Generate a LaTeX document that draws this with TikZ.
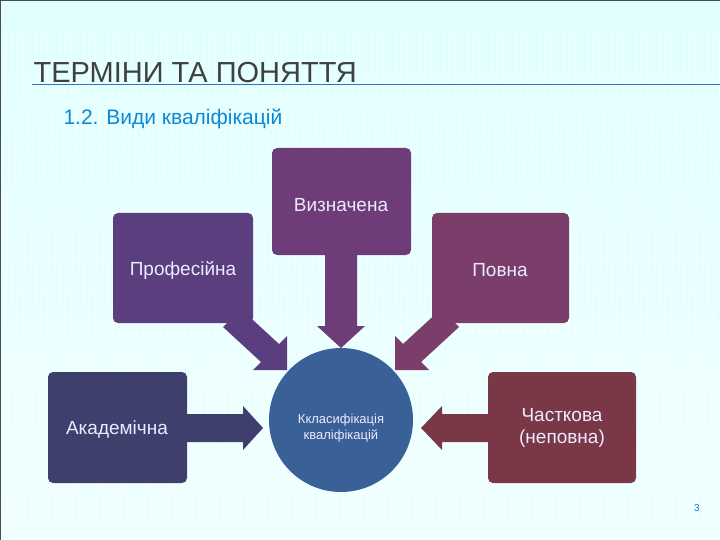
\documentclass[tikz,border=0pt]{standalone}
\usepackage{fontspec}
\setmainfont{Liberation Sans}
\begin{document}
\begin{tikzpicture}[x=1pt,y=-1pt,
  box/.style={rounded corners=5pt},
  lbl/.style={text=white!92!blue,font=\fontsize{19}{22}\selectfont,align=center}]
\useasboundingbox (0,0) rectangle (720,540);
\shade[top color=cyan!12,bottom color=cyan!6!white] (0,0) rectangle (720,540);
\foreach \i in {0,6,...,720}{\draw[white,opacity=0.35,line width=1.5pt] (\i,30) -- ++(-12,510);}
\draw[gray!60!black] (0,0) rectangle (720,540);
% title
\node[anchor=base west,text=black!75,font=\fontsize{29}{32}\selectfont] (title) at (30,83) {ТЕРМІНИ ТА ПОНЯТТЯ};
\draw[cyan!60!blue!80!black] (32,84) -- (720,84);
\node[anchor=base west,text=cyan!70!blue,font=\fontsize{21}{24}\selectfont] (sub) at (60,125) {1.2. Види кваліфікацій};
% colours
\definecolor{cV}{HTML}{6E3C78}
\definecolor{cP}{HTML}{5A3E7D}
\definecolor{cN}{HTML}{7B3D69}
\definecolor{cA}{HTML}{3F3F6E}
\definecolor{cC}{HTML}{7A3847}
\definecolor{cK}{HTML}{3A6098}
% Визначена
\fill[cV,box] (272,148) rectangle (411,255);
\fill[cV] (325,250) -- (357,250) -- (357,326) -- (365,326) -- (341,348) -- (317,326) -- (325,326) -- cycle;
\node[lbl] (v) at (341,205) {Визначена};
% Професійна
\fill[cP,box] (113,213) rectangle (253,323);
\fill[cP] (241,309) -- (279,344) -- (287,336) -- (287,370) -- (253,370) -- (261,362) -- (223,327) -- cycle;
\node[lbl] (p) at (183,270) {Професійна};
% Повна
\fill[cN,box] (432,213) rectangle (569,323);
\fill[cN] (441,309) -- (403,344) -- (395,336) -- (395,370) -- (429,370) -- (421,362) -- (459,327) -- cycle;
\node[lbl] (n) at (500,270) {Повна};
% Академічна
\fill[cA,box] (48,372) rectangle (187,483);
\fill[cA] (182,414) -- (243,414) -- (243,406) -- (263,428) -- (243,450) -- (243,442) -- (182,442) -- cycle;
\node[lbl] (a) at (117,430) {Академічна};
% Часткова
\fill[cC,box] (488,372) rectangle (636,483);
\fill[cC] (493,414) -- (442,414) -- (442,406) -- (421,428) -- (442,450) -- (442,442) -- (493,442) -- cycle;
\node[lbl] (c) at (562,428) {Часткова\\(неповна)};
% circle
\fill[cK] (341,420) circle (72);
\node[text=white!92!blue,font=\fontsize{13}{16}\selectfont,align=center] (k) at (341,428) {Ккласифікація\\кваліфікацій};
\node[text=cyan!60!blue,font=\fontsize{10}{12}\selectfont] (pg) at (697,508) {3};
\end{tikzpicture}
\end{document}
